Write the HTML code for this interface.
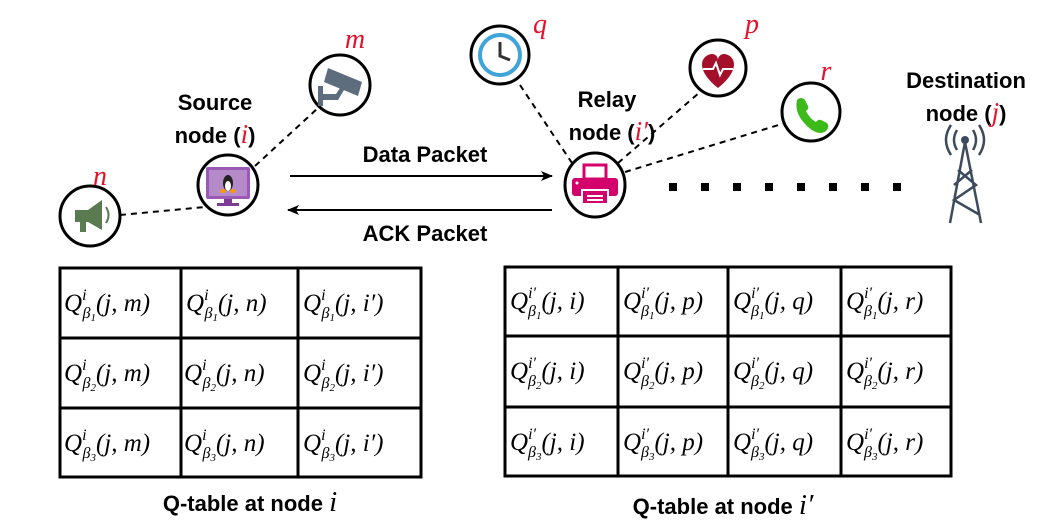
<!DOCTYPE html>
<html><head><meta charset="utf-8"><style>
html,body{margin:0;padding:0;background:#fff;}
svg{display:block;}
.b{font-family:"Liberation Sans",sans-serif;font-weight:bold;font-size:22px;fill:#000;}
.m{font-family:"Liberation Serif",serif;font-style:italic;fill:#000;}
.r{font-family:"Liberation Serif",serif;font-style:italic;fill:#e8102a;}
</style></head><body>
<svg width="1045" height="527" viewBox="0 0 1045 527" xmlns="http://www.w3.org/2000/svg">
<defs>
<marker id="ah" markerWidth="12" markerHeight="10" refX="11" refY="5" orient="auto" markerUnits="userSpaceOnUse"><path d="M0,0 L12,5 L0,10 L3,5z" fill="#000"/></marker>
</defs>
<g stroke="#000" stroke-width="2" stroke-dasharray="6,5" fill="none">
<line x1="120" y1="215" x2="205" y2="207"/>
<line x1="255" y1="166" x2="318" y2="108"/>
<line x1="520" y1="85" x2="572" y2="163"/>
<line x1="618" y1="163" x2="700" y2="92"/>
<line x1="625" y1="172" x2="785" y2="123"/>
</g>
<line x1="290" y1="176" x2="552" y2="176" stroke="#000" stroke-width="2" marker-end="url(#ah)"/>
<line x1="552" y1="210" x2="288" y2="210" stroke="#000" stroke-width="2" marker-end="url(#ah)"/>
<text class="b" x="425" y="162" text-anchor="middle">Data Packet</text>
<text class="b" x="425" y="241" text-anchor="middle">ACK Packet</text>
<g fill="#000">
<rect x="669" y="183" width="8" height="8"/><rect x="701" y="183" width="8" height="8"/><rect x="733" y="183" width="8" height="8"/><rect x="765" y="183" width="8" height="8"/><rect x="797" y="183" width="8" height="8"/><rect x="829" y="183" width="8" height="8"/><rect x="861" y="183" width="8" height="8"/><rect x="893" y="183" width="8" height="8"/>
</g>
<g fill="#fff" stroke="#000" stroke-width="3">
<circle cx="90" cy="216" r="30"/>
<circle cx="228" cy="185" r="30"/>
<circle cx="340" cy="85" r="30"/>
<circle cx="500" cy="55" r="29"/>
<circle cx="718" cy="68" r="28"/>
<circle cx="811" cy="112" r="29"/>
<ellipse cx="595" cy="185" rx="30" ry="32"/>
</g>
<g fill="#5a7a4f"><path d="M75,210 L88,210 L102,200 L102,230 L88,222 L75,222z"/><rect x="80" y="222" width="6" height="10"/><path d="M106,207 q5,8 0,16" stroke="#5a7a4f" stroke-width="2" fill="none"/></g>
<rect x="206" y="167" width="44" height="32" rx="2" fill="#9b59b6"/><rect x="209" y="170" width="38" height="26" fill="#b58ac9"/><rect x="224" y="199" width="8" height="5" fill="#7d3c98"/><rect x="217" y="203" width="22" height="3" fill="#7d3c98"/>
<ellipse cx="228" cy="183" rx="5" ry="8" fill="#222"/><ellipse cx="228" cy="186" rx="3" ry="5" fill="#fff"/><ellipse cx="223" cy="191" rx="3" ry="2" fill="#f39c12"/><ellipse cx="233" cy="191" rx="3" ry="2" fill="#f39c12"/>
<g fill="#5d6d7e"><path d="M328,68 L362,82 L358,96 L324,82z"/><rect x="318" y="86" width="5" height="20"/><path d="M322,94 L336,94 L340,88 L344,90 L338,100 L322,100z"/></g>
<circle cx="500" cy="55" r="20" fill="#fff" stroke="#3fa4d8" stroke-width="4"/><path d="M500,42 L500,56 L510,60" stroke="#333" stroke-width="3" fill="none"/>
<path d="M718,88 C700,74 698,60 708,55 C714,52 718,56 718,60 C718,56 722,52 728,55 C738,60 736,74 718,88z" fill="#a4102a"/><path d="M703,69 L713,69 L716,63 L720,75 L723,69 L733,69" stroke="#fff" stroke-width="2" fill="none"/>
<path d="M797,100 q4,-4 8,0 l3,6 q1,3 -2,5 q4,8 10,11 q2,-3 5,-2 l6,3 q3,4 -1,8 q-8,6 -20,-6 q-12,-12 -9,-25z" fill="#3cba1a"/>
<rect x="584" y="165" width="22" height="14" fill="#fff" stroke="#d4006b" stroke-width="3"/>
<rect x="572" y="178" width="46" height="18" rx="3" fill="#d4006b"/><circle cx="577" cy="183" r="1.5" fill="#fff"/>
<rect x="582" y="190" width="26" height="14" fill="#d4006b" stroke="#fff" stroke-width="2"/><rect x="587" y="195" width="16" height="2" fill="#fff"/><rect x="587" y="199" width="16" height="2" fill="#fff"/>
<g stroke="#3d4b5c" stroke-width="2.5" fill="none">
<path d="M965,142 L950,223 M965,142 L981,223 M958,170 L976,185 L954,200 L980,215 M972,170 L954,185"/>
<path d="M957,130 q-6,10 0,20 M973,130 q6,10 0,20 M951,125 q-10,15 0,30 M979,125 q10,15 0,30"/>
</g>
<circle cx="965" cy="140" r="4" fill="#3d4b5c"/>
<text class="b" x="215" y="110" text-anchor="middle">Source</text>
<text class="b" x="215" y="143" text-anchor="middle">node (<tspan class="r" font-size="27" font-weight="normal">i</tspan>)</text>
<text class="b" x="607" y="107" text-anchor="middle">Relay</text>
<text class="b" x="612" y="140" text-anchor="middle">node (<tspan class="r" font-size="27" font-weight="normal">i′</tspan>)</text>
<text class="b" x="966" y="88" text-anchor="middle">Destination</text>
<text class="b" x="966" y="121" text-anchor="middle">node (<tspan class="r" font-size="27" font-weight="normal">j</tspan>)</text>
<text class="r" x="100" y="185" font-size="28" text-anchor="middle">n</text>
<text class="r" x="355" y="48" font-size="28" text-anchor="middle">m</text>
<text class="r" x="540" y="33" font-size="28" text-anchor="middle">q</text>
<text class="r" x="752" y="33" font-size="28" text-anchor="middle">p</text>
<text class="r" x="826" y="80" font-size="28" text-anchor="middle">r</text>
<g stroke="#000" stroke-width="3" fill="none">
<rect x="60" y="268" width="361" height="209"/>
<line x1="181" y1="268" x2="181" y2="477"/><line x1="298" y1="268" x2="298" y2="477"/>
<line x1="60" y1="338" x2="421" y2="338"/><line x1="60" y1="408" x2="421" y2="408"/>
<rect x="505" y="267" width="446" height="209"/>
<line x1="618" y1="267" x2="618" y2="476"/><line x1="728" y1="267" x2="728" y2="476"/><line x1="841" y1="267" x2="841" y2="476"/>
<line x1="505" y1="336" x2="951" y2="336"/><line x1="505" y1="407" x2="951" y2="407"/>
</g>
<g class="m" font-size="25">
<text x="64" y="311">Q<tspan font-size="16" dy="-11">i</tspan><tspan font-size="16" dx="-4" dy="18">β</tspan><tspan font-size="11" dy="3">1</tspan><tspan dy="-10">(j, m)</tspan></text>
<text x="186" y="311">Q<tspan font-size="16" dy="-11">i</tspan><tspan font-size="16" dx="-4" dy="18">β</tspan><tspan font-size="11" dy="3">1</tspan><tspan dy="-10">(j, n)</tspan></text>
<text x="303" y="311">Q<tspan font-size="16" dy="-11">i</tspan><tspan font-size="16" dx="-4" dy="18">β</tspan><tspan font-size="11" dy="3">1</tspan><tspan dy="-10">(j, i′)</tspan></text>
<text x="64" y="381">Q<tspan font-size="16" dy="-11">i</tspan><tspan font-size="16" dx="-4" dy="18">β</tspan><tspan font-size="11" dy="3">2</tspan><tspan dy="-10">(j, m)</tspan></text>
<text x="184" y="381">Q<tspan font-size="16" dy="-11">i</tspan><tspan font-size="16" dx="-4" dy="18">β</tspan><tspan font-size="11" dy="3">2</tspan><tspan dy="-10">(j, n)</tspan></text>
<text x="303" y="381">Q<tspan font-size="16" dy="-11">i</tspan><tspan font-size="16" dx="-4" dy="18">β</tspan><tspan font-size="11" dy="3">2</tspan><tspan dy="-10">(j, i′)</tspan></text>
<text x="64" y="451">Q<tspan font-size="16" dy="-11">i</tspan><tspan font-size="16" dx="-4" dy="18">β</tspan><tspan font-size="11" dy="3">3</tspan><tspan dy="-10">(j, m)</tspan></text>
<text x="184" y="451">Q<tspan font-size="16" dy="-11">i</tspan><tspan font-size="16" dx="-4" dy="18">β</tspan><tspan font-size="11" dy="3">3</tspan><tspan dy="-10">(j, n)</tspan></text>
<text x="303" y="451">Q<tspan font-size="16" dy="-11">i</tspan><tspan font-size="16" dx="-4" dy="18">β</tspan><tspan font-size="11" dy="3">3</tspan><tspan dy="-10">(j, i′)</tspan></text>

<text x="510" y="309">Q<tspan font-size="16" dy="-11">i′</tspan><tspan font-size="16" dx="-8" dy="18">β</tspan><tspan font-size="11" dy="3">1</tspan><tspan dy="-10">(j, i)</tspan></text>
<text x="623" y="309">Q<tspan font-size="16" dy="-11">i′</tspan><tspan font-size="16" dx="-8" dy="18">β</tspan><tspan font-size="11" dy="3">1</tspan><tspan dy="-10">(j, p)</tspan></text>
<text x="733" y="309">Q<tspan font-size="16" dy="-11">i′</tspan><tspan font-size="16" dx="-8" dy="18">β</tspan><tspan font-size="11" dy="3">1</tspan><tspan dy="-10">(j, q)</tspan></text>
<text x="846" y="309">Q<tspan font-size="16" dy="-11">i′</tspan><tspan font-size="16" dx="-8" dy="18">β</tspan><tspan font-size="11" dy="3">1</tspan><tspan dy="-10">(j, r)</tspan></text>
<text x="510" y="379">Q<tspan font-size="16" dy="-11">i′</tspan><tspan font-size="16" dx="-8" dy="18">β</tspan><tspan font-size="11" dy="3">2</tspan><tspan dy="-10">(j, i)</tspan></text>
<text x="623" y="379">Q<tspan font-size="16" dy="-11">i′</tspan><tspan font-size="16" dx="-8" dy="18">β</tspan><tspan font-size="11" dy="3">2</tspan><tspan dy="-10">(j, p)</tspan></text>
<text x="733" y="379">Q<tspan font-size="16" dy="-11">i′</tspan><tspan font-size="16" dx="-8" dy="18">β</tspan><tspan font-size="11" dy="3">2</tspan><tspan dy="-10">(j, q)</tspan></text>
<text x="846" y="379">Q<tspan font-size="16" dy="-11">i′</tspan><tspan font-size="16" dx="-8" dy="18">β</tspan><tspan font-size="11" dy="3">2</tspan><tspan dy="-10">(j, r)</tspan></text>
<text x="510" y="450">Q<tspan font-size="16" dy="-11">i′</tspan><tspan font-size="16" dx="-8" dy="18">β</tspan><tspan font-size="11" dy="3">3</tspan><tspan dy="-10">(j, i)</tspan></text>
<text x="623" y="450">Q<tspan font-size="16" dy="-11">i′</tspan><tspan font-size="16" dx="-8" dy="18">β</tspan><tspan font-size="11" dy="3">3</tspan><tspan dy="-10">(j, p)</tspan></text>
<text x="733" y="450">Q<tspan font-size="16" dy="-11">i′</tspan><tspan font-size="16" dx="-8" dy="18">β</tspan><tspan font-size="11" dy="3">3</tspan><tspan dy="-10">(j, q)</tspan></text>
<text x="846" y="450">Q<tspan font-size="16" dy="-11">i′</tspan><tspan font-size="16" dx="-8" dy="18">β</tspan><tspan font-size="11" dy="3">3</tspan><tspan dy="-10">(j, r)</tspan></text>
</g>
<text class="b" x="250" y="511" text-anchor="middle" font-size="25">Q-table at node <tspan class="m" font-weight="normal" font-size="29">i</tspan></text>
<text class="b" x="723" y="514" text-anchor="middle" font-size="25">Q-table at node <tspan class="m" font-weight="normal" font-size="29">i′</tspan></text>
</svg>
</body></html>
